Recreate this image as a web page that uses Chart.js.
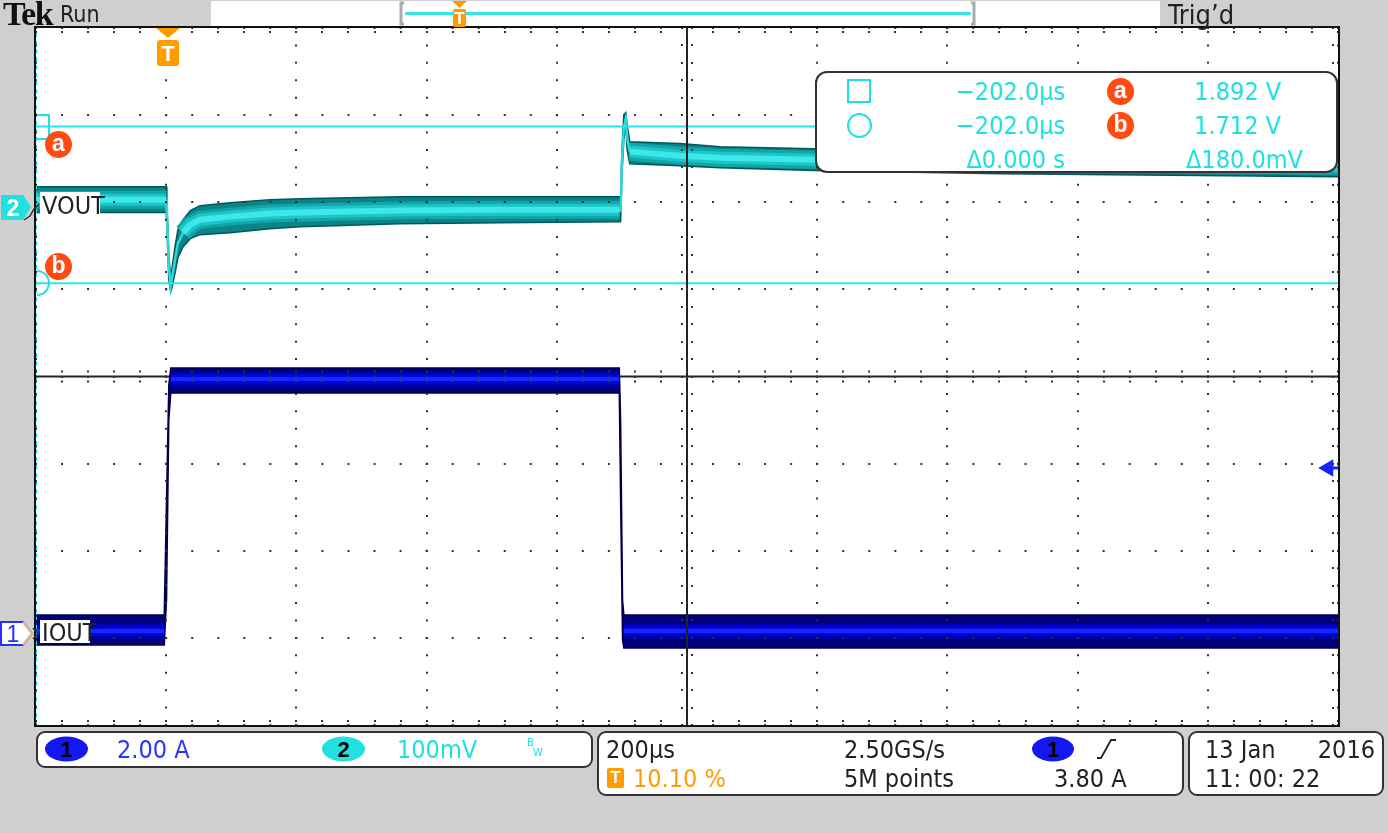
<!DOCTYPE html>
<html lang="en">
<head>
<meta charset="utf-8">
<title>VOUT / IOUT load step</title>
<script src="https://cdn.jsdelivr.net/npm/chart.js@4/dist/chart.umd.min.js"></script>
<style>
  html, body { margin: 0; padding: 0; background: #cfcfcf; }
  #screen { position: relative; width: 1388px; height: 833px; overflow: hidden; background: #cfcfcf;
    font-family: "DejaVu Sans Condensed", "DejaVu Sans", sans-serif; color: #222; }
  #scope { position: absolute; left: 0; top: 0; }
  .t { position: absolute; white-space: nowrap; line-height: 1; font-size: 25px; transform: translateY(-50%); }
  .r { text-align: right; }
  .box { position: absolute; box-sizing: border-box; background: #fff; border: 2px solid #333; border-radius: 10px; }
  .pill { position: absolute; height: 25px; border-radius: 50%; text-align: center; line-height: 25px;
    font: bold 22px "Liberation Sans", sans-serif; color: #000; transform: translateY(-50%); }
  .dot { position: absolute; width: 27px; height: 27px; border-radius: 50%; background: #ff4a12; color: #fff;
    font: bold 23px "Liberation Sans", sans-serif; text-align: center; line-height: 25px; }
  .cy { color: #1fe0e0; }
  .svg { position: absolute; overflow: visible; }
</style>
</head>
<body>
<div id="screen">
  <canvas id="scope" width="1388" height="833"></canvas>

  <!-- status bar -->
  <div class="t" style="left:3px; top:14px; font:bold 34px 'Liberation Serif', serif; color:#111; letter-spacing:-1.5px">Tek</div>
  <div class="t" style="left:60px; top:14px; font-size:23px">Run</div>
  <div style="position:absolute; left:211px; top:1px; width:949px; height:25px; background:#fff"></div>
  <svg class="svg" style="left:0; top:0" width="1388" height="28">
    <path d="M404 3 H401 V24 H404" stroke="#aaa" stroke-width="3" fill="none"/>
    <path d="M971 3 H974 V24 H971" stroke="#aaa" stroke-width="3" fill="none"/>
    <rect x="405" y="12" width="566" height="3" fill="#35e6e6"/>
    <path d="M452 1 H467 L459.5 8 Z" fill="#ff9c00"/>
    <rect x="453" y="9" width="13" height="18" rx="2" fill="#ff9c00"/>
    <text x="459.5" y="24" font-family="Liberation Sans" font-weight="bold" font-size="17" fill="#fff" text-anchor="middle">T</text>
  </svg>
  <div class="t" style="left:1168px; top:14px; font-size:27px">Trig’d</div>

  <!-- trigger position marker -->
  <svg id="trigMark" class="svg" style="left:157px; top:28px" width="24" height="40">
    <path d="M0 0 H24 L12 10 Z" fill="#ff9c00"/>
    <rect x="1" y="12" width="22" height="26" rx="3" fill="#ff9c00"/>
    <text x="12" y="33" font-family="Liberation Sans" font-weight="bold" font-size="22" fill="#fff" text-anchor="middle">T</text>
  </svg>

  <!-- channel markers and labels -->
  <svg class="svg" style="left:0; top:194px" width="44" height="30">
    <path d="M1 1 H23 L31 13 L23 26 H1 Z" fill="#22dfe0"/>
    <text x="13" y="22" font-family="Liberation Sans" font-weight="bold" font-size="23" fill="#fff" text-anchor="middle">2</text>
    <path d="M24 26 L30 22 L34 15 L39 10" stroke="#333" stroke-width="1.5" fill="none"/>
  </svg>
  <div style="position:absolute; left:40px; top:192px; width:60px; height:26px; background:#fff"></div>
  <div class="t" style="left:42px; top:205px; font-size:25px; color:#222">VOUT</div>

  <svg class="svg" style="left:0; top:620px" width="44" height="30">
    <path d="M1 2 H23 L32 13.5 L23 25 H1 Z" fill="#fff" stroke="#2430ff" stroke-width="2"/>
    <path d="M23 2 L32 13.5 L23 25" fill="none" stroke="#f0c080" stroke-width="2"/>
    <text x="13" y="22" font-family="Liberation Sans" font-size="23" fill="#2430ff" text-anchor="middle">1</text>
    <path d="M33 8 L38 13.5 L33 19" stroke="#333" stroke-width="1.5" fill="none"/>
  </svg>
  <div style="position:absolute; left:40px; top:620px; width:50px; height:23px; background:#fff"></div>
  <div class="t" style="left:42px; top:632px; font-size:25px; color:#222">IOUT</div>

  <!-- cursor labels on the left -->
  <svg class="svg" style="left:0; top:0" width="60" height="320">
    <path d="M37 115 H49 V139 H37" stroke="#22dfe0" stroke-width="2" fill="none"/>
    <path d="M37 271 A12 12 0 0 1 37 295" stroke="#22dfe0" stroke-width="2" fill="none"/>
  </svg>
  <div class="dot" style="left:45px; top:131px">a</div>
  <div class="dot" style="left:45px; top:253px">b</div>

  <!-- cursor readout -->
  <div class="box" style="left:815px; top:71px; width:523px; height:102px; border-radius:12px">
    <div style="position:absolute; left:30px; top:6px; width:20px; height:20px; border:2px solid #1fe0e0"></div>
    <div style="position:absolute; left:30px; top:40px; width:21px; height:21px; border:2px solid #1fe0e0; border-radius:50%"></div>
    <div class="t r cy" style="left:100px; width:148px; top:18px">−202.0µs</div>
    <div class="t r cy" style="left:100px; width:148px; top:52px">−202.0µs</div>
    <div class="t r cy" style="left:100px; width:148px; top:86px">Δ0.000 s</div>
    <div class="dot" style="left:290px; top:5px">a</div>
    <div class="dot" style="left:290px; top:39px">b</div>
    <div class="t r cy" style="left:330px; width:134px; top:18px">1.892 V</div>
    <div class="t r cy" style="left:330px; width:134px; top:52px">1.712 V</div>
    <div class="t r cy" style="left:330px; width:156px; top:86px">Δ180.0mV</div>
  </div>

  <!-- bottom readouts -->
  <div class="box" style="left:36px; top:731px; width:557px; height:37px; border-radius:9px"></div>
  <div class="pill" style="left:45px; top:749px; width:43px; background:#1418f0">1</div>
  <div class="t" style="left:117px; top:749px; color:#2a33ff">2.00 A</div>
  <div class="pill" style="left:322px; top:749px; width:43px; background:#22dfe0">2</div>
  <div class="t cy" style="left:397px; top:749px">100mV</div>
  <div class="t cy" style="left:527px; top:742px; font-size:11px">B</div>
  <div class="t cy" style="left:533px; top:752px; font-size:11px">W</div>

  <div class="box" style="left:597px; top:731px; width:587px; height:65px; border-radius:9px"></div>
  <div class="t" style="left:606px; top:749px">200µs</div>
  <div style="position:absolute; left:607px; top:768px; width:17px; height:20px; background:#ff9c00; border-radius:2px;
       color:#fff; font:bold 17px 'Liberation Sans', sans-serif; text-align:center; line-height:20px">T</div>
  <div class="t" style="left:633px; top:778px; color:#ff9c00">10.10 %</div>
  <div class="t" style="left:844px; top:749px">2.50GS/s</div>
  <div class="t" style="left:844px; top:778px">5M points</div>
  <div class="pill" style="left:1032px; top:749px; width:42px; background:#1418f0">1</div>
  <svg class="svg" style="left:1096px; top:737px" width="24" height="24">
    <path d="M1 21 H5 L15 3 H20" stroke="#222" stroke-width="1.8" fill="none"/>
  </svg>
  <div class="t" style="left:1054px; top:778px">3.80 A</div>

  <div class="box" style="left:1188px; top:731px; width:196px; height:65px; border-radius:9px"></div>
  <div class="t" style="left:1205px; top:749px">13 Jan</div>
  <div class="t r" style="left:1300px; width:75px; top:749px">2016</div>
  <div class="t" style="left:1205px; top:778px">11: 00: 22</div>
</div>

<script>
// ---- values; time in µs from the trigger point ----
// CH2 VOUT, 100 mV/div: envelope of the noisy trace and its bright core (null = no core visible)
const vTime = [-202, -2, -1, 2, 5, 7, 12, 16, 24, 35, 50, 96, 157, 204, 357, 511, 694, 696, 698, 701, 704, 706, 710, 787, 849, 992, 1279, 1798];
const vTop  = [1.8229, 1.8229, 1.8080, 1.7449, 1.7162, 1.7299, 1.7563, 1.7735, 1.7850, 1.7954, 1.8011, 1.8045, 1.8080, 1.8091,
               1.8114, 1.8114, 1.8114, 1.8080, 1.8654, 1.9055, 1.9078, 1.8941, 1.8745, 1.8723, 1.8688, 1.8665, 1.8631, 1.8585];
const vBot  = [1.7931, 1.7931, 1.7793, 1.7162, 1.7024, 1.7070, 1.7253, 1.7414, 1.7540, 1.7632, 1.7678, 1.7701, 1.7747, 1.7770,
               1.7804, 1.7816, 1.7827, 1.7827, 1.8367, 1.8768, 1.8941, 1.8654, 1.8493, 1.8470, 1.8447, 1.8413, 1.8378, 1.8344];
const vMid  = [1.8080, 1.8080, null, null, null, null, null, null, 1.7701, 1.7793, 1.7850, 1.7885, 1.7920, 1.7931,
               1.7954, 1.7965, 1.7965, null, null, null, null, null, 1.8631, 1.8585, 1.8562, 1.8539, 1.8505, 1.8470];
// thin bright trace seen through the fast edges
const vEdge = [null, 1.8080, 1.7931, 1.7305, 1.7081, 1.7185, 1.7414, 1.7575, 1.7701, null, null, null, null, null,
               null, null, 1.7965, 1.7954, 1.8510, 1.8911, 1.9009, 1.8797, 1.8631, null, null, null, null, null];

// CH1 IOUT, 2 A/div
const iTime = [-202, -7, -5, -1.5, 2, 5, 694, 696, 699, 701, 1798];
const iTop  = [0.425, 0.425, 0.425, 3.065, 5.704, 6.094, 6.094, 4.901, 0.769, 0.425, 0.425];
const iBot  = [-0.264, -0.264, -0.264, 0.769, 4.901, 5.520, 5.520, 3.065, -0.149, -0.333, -0.333];
const iMid  = [0.057, 0.057, 0.057, null, null, 5.842, 5.842, null, null, 0.057, 0.057];

// cursors and trigger
const cursorA = 1.892, cursorB = 1.712, cursorT = -202;
const trigLevel = 3.80;

// screen setup: 10 x 8 divisions
const xMin = -202, xMax = 1798;          // 200 µs/div, trigger at 10.10 %
const vMin = 1.205, vMax = 2.005;        // CH2 100 mV/div
const iMin = -2.1, iMax = 13.9;          // CH1 2 A/div
const xTicks = [], vTicks = [];
for (let k = 0; k <= 10; k++) xTicks.push(xMin + k * 200);
for (let k = 0; k <= 8; k++) vTicks.push(vMin + k * 0.1);

const pts = (xs, ys) => xs.map((x, i) => ({ x: x, y: ys[i] }));

const frame = {
  id: 'frame',
  beforeDraw(c) {
    const { ctx, chartArea: a } = c;
    ctx.save();
    ctx.fillStyle = '#fff';
    ctx.fillRect(a.left, a.top, a.right - a.left, a.bottom - a.top);
    ctx.restore();
  },
  beforeDatasetsDraw(c) {
    const { ctx, chartArea: a, scales } = c;
    const cy = scales.y.getPixelForValue((vMin + vMax) / 2);
    ctx.save();
    ctx.fillStyle = '#222';
    ctx.fillRect(a.left, cy - 1, a.right - a.left, 2);
    ctx.restore();
  },
  afterDatasetsDraw(c) {
    const { ctx, chartArea: a, scales } = c;
    const cx = scales.x.getPixelForValue((xMin + xMax) / 2);
    ctx.save();
    ctx.fillStyle = '#222';
    ctx.fillRect(cx - 1, a.top, 2, a.bottom - a.top);
    ctx.restore();
  },
  afterDraw(c) {
    const { ctx, chartArea: a, scales } = c;
    const cx = scales.x.getPixelForValue((xMin + xMax) / 2);
    const cy = scales.y.getPixelForValue((vMin + vMax) / 2);
    ctx.save();
    ctx.fillStyle = '#333';
    for (let k = 0; k <= 50; k++) {
      const px = Math.round(scales.x.getPixelForValue(xMin + k * (xMax - xMin) / 50));
      ctx.fillRect(px - 1, a.top + 3, 2, 2);
      ctx.fillRect(px - 1, a.bottom - 5, 2, 2);
      ctx.fillRect(px - 1, cy - 6, 2, 2);
      ctx.fillRect(px - 1, cy + 4, 2, 2);
    }
    for (let k = 0; k <= 40; k++) {
      const py = Math.round(scales.y.getPixelForValue(vMin + k * (vMax - vMin) / 40));
      ctx.fillRect(a.right - 6, py - 1, 2, 2);
      ctx.fillRect(cx - 6, py - 1, 2, 2);
      ctx.fillRect(cx + 4, py - 1, 2, 2);
    }
    ctx.strokeStyle = '#111';
    ctx.lineWidth = 2;
    ctx.strokeRect(a.left - 1, a.top - 1, a.right - a.left + 2, a.bottom - a.top + 2);
    ctx.fillStyle = '#111';
    ctx.fillRect(a.right, a.top - 2, 2, a.bottom - a.top + 4);
    ctx.fillRect(a.left - 2, a.bottom, a.right - a.left + 4, 2);
    ctx.restore();
  }
};

const line = (data, color, width, axis, extra) => Object.assign({
  data: data, borderColor: color, borderWidth: width, yAxisID: axis,
  pointRadius: 0, fill: false, tension: 0
}, extra || {});

const chart = new Chart(document.getElementById('scope'), {
  type: 'line',
  data: {
    datasets: [
      line(pts(vTime, vTop), '#00585c', 1.5, 'y', { order: 7 }),
      line(pts(vTime, vBot), '#00585c', 1.5, 'y', { order: 7, fill: '-1', backgroundColor: '#0a8488' }),
      line(pts(vTime, vMid), '#12a6a8', 18, 'y', { order: 6 }),
      line(pts(vTime, vMid), '#1cc6c8', 12, 'y', { order: 5 }),
      line(pts(vTime, vMid), '#3ee8e8', 6, 'y', { order: 4 }),
      line(pts(vTime, vEdge), '#2ed8da', 2.5, 'y', { order: 4 }),
      line(pts(iTime, iTop), '#00004a', 1.5, 'y1', { order: 7 }),
      line(pts(iTime, iBot), '#00004a', 1.5, 'y1', { order: 7, fill: '-1', backgroundColor: '#000078' }),
      line(pts(iTime, iMid), '#0000b4', 15, 'y1', { order: 6 }),
      line(pts(iTime, iMid), '#0008d8', 9, 'y1', { order: 5 }),
      line(pts(iTime, iMid), '#1428ff', 4, 'y1', { order: 4 }),
      line([{ x: xMin, y: cursorA }, { x: xMax, y: cursorA }], '#2ce4e4', 2, 'y', { order: 3 }),
      line([{ x: xMin, y: cursorB }, { x: xMax, y: cursorB }], '#2ce4e4', 2, 'y', { order: 3 }),
      line([{ x: cursorT, y: vMin }, { x: cursorT, y: vMax }], '#22dfe0', 2, 'y', { order: 3, clip: false, borderDash: [4, 4] }),
      line([{ x: xMax - 15, y: trigLevel }, { x: xMax, y: trigLevel }], '#1a22ff', 3, 'y1', {
        order: 2, pointRadius: [10, 0], pointStyle: 'triangle', rotation: 270,
        pointBackgroundColor: '#1a22ff', pointBorderWidth: 0
      })
    ]
  },
  options: {
    responsive: false,
    animation: false,
    events: [],
    layout: { padding: { left: 36, top: 28, right: 50, bottom: 108 } },
    plugins: { legend: { display: false }, tooltip: { enabled: false } },
    scales: {
      x: {
        type: 'linear', min: xMin, max: xMax,
        afterBuildTicks: s => { s.ticks = xTicks.map(v => ({ value: v })); },
        ticks: { display: false },
        grid: { color: '#333', lineWidth: 2, drawTicks: false, z: 1 },
        border: { display: false, dash: [2, 15.425], dashOffset: 1 }
      },
      y: {
        min: vMin, max: vMax,
        afterBuildTicks: s => { s.ticks = vTicks.map(v => ({ value: v })); },
        ticks: { display: false },
        grid: { color: '#333', lineWidth: 2, drawTicks: false, z: 1 },
        border: { display: false, dash: [2, 24.04], dashOffset: 1 }
      },
      y1: { display: false, min: iMin, max: iMax }
    }
  },
  plugins: [frame]
});

// trigger marker follows the trigger time on the x scale
document.getElementById('trigMark').style.left = (chart.scales.x.getPixelForValue(0) - 12) + 'px';
</script>
</body>
</html>
